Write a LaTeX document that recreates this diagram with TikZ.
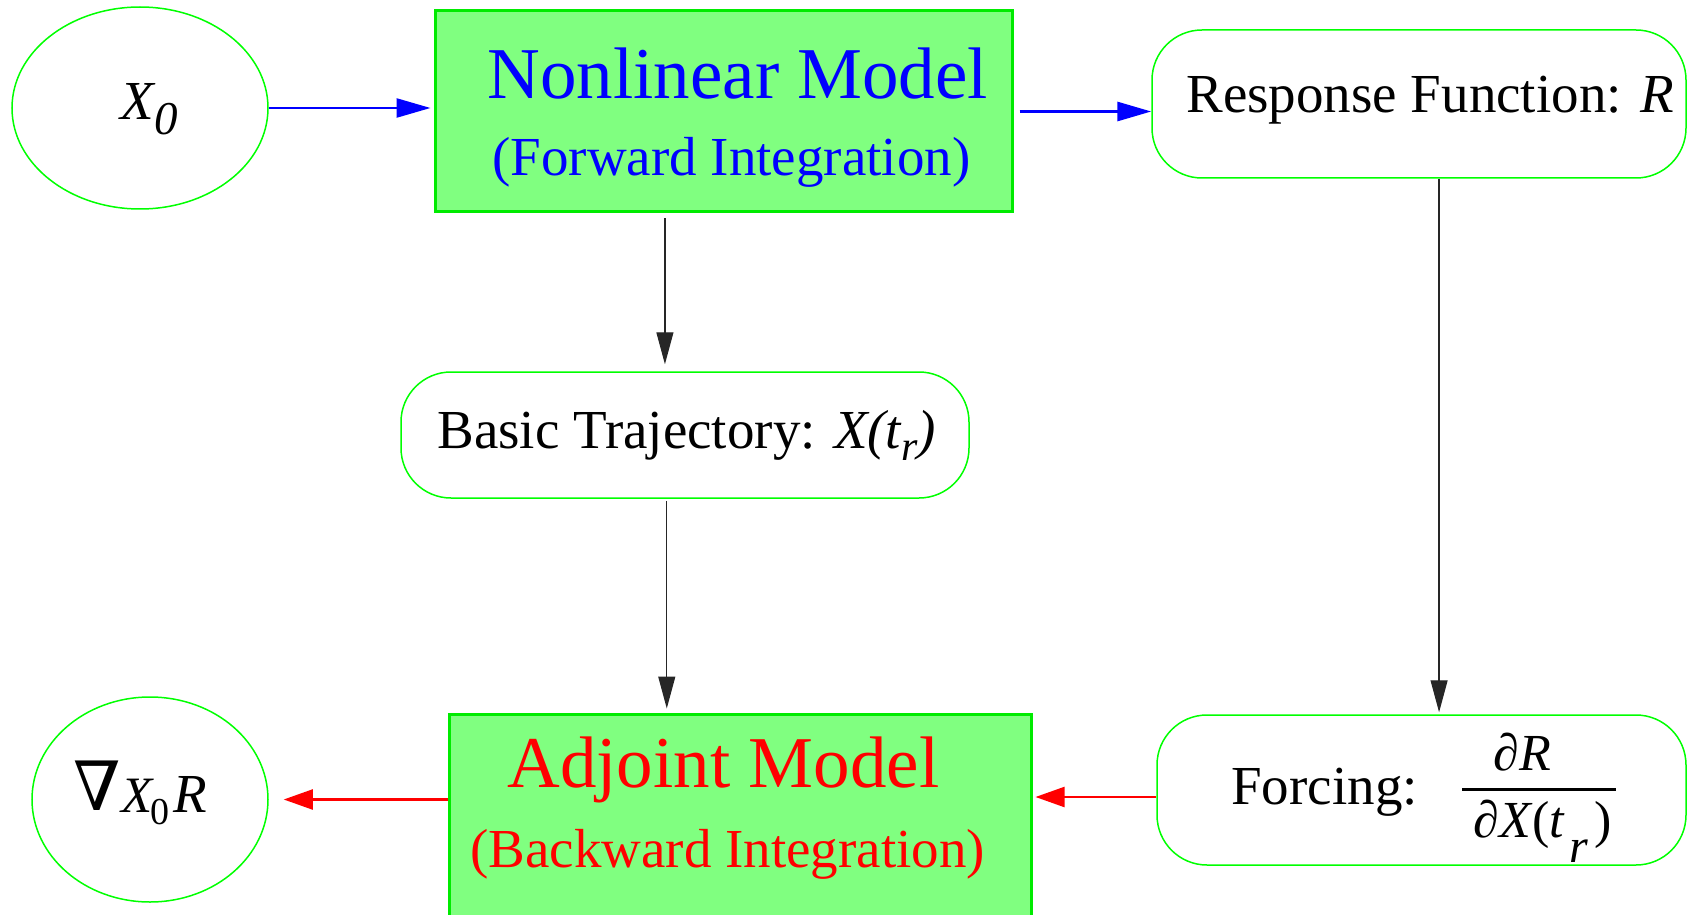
\documentclass[tikz,border=0pt]{standalone}
\usepackage{fontspec}
\setmainfont{Liberation Serif}
\newfontfamily\symfont{DejaVu Serif}
\usetikzlibrary{shapes.geometric,arrows.meta,calc}

\definecolor{modelfill}{RGB}{128,255,128}
\definecolor{modeledge}{RGB}{0,235,0}
\definecolor{outline}{RGB}{0,255,0}
\definecolor{fwdblue}{RGB}{0,0,255}
\definecolor{adjred}{RGB}{255,0,0}

\newcommand\fsz[1]{\fontsize{#1}{#1}\selectfont}

\begin{document}
\begin{tikzpicture}[x=0.5pt,y=-0.5pt,
  modelbox/.style={rectangle,draw=modeledge,line width=1.5pt,fill=modelfill,inner sep=0pt},
  infobox/.style={rectangle,draw=outline,line width=0.75pt,rounded corners=25pt,inner sep=0pt},
  oval/.style={ellipse,draw=outline,line width=0.75pt,inner sep=0pt},
  lbl/.style={anchor=base west,inner sep=0pt},
  titlefont/.style={font=\fsz{36.5pt}},
  textfont/.style={font=\fsz{27.5pt}},
  fwd/.style={draw=fwdblue,line width=1.25pt,-{Triangle[length=17pt,width=9.5pt]}},
  dep/.style={draw=black!85,line width=0.6pt,-{Triangle[length=16pt,width=8.5pt]}},
  back/.style={draw=adjred,line width=1.1pt,-{Triangle[length=14.5pt,width=10pt]}}]

\useasboundingbox (0,0) rectangle (1688,915);

% shapes
\node[oval,minimum width=128pt,minimum height=101pt] (x0) at (140,108) {};
\node[modelbox,minimum width=288.5pt,minimum height=100.5pt] (nl) at (723.5,111.5) {};
\node[infobox,minimum width=267pt,minimum height=74pt] (resp) at (1419,104) {};
\node[infobox,minimum width=284pt,minimum height=63pt] (basic) at (685,435) {};
\node[modelbox,minimum width=291pt,minimum height=113pt] (adj) at (740,827) {};
\node[infobox,minimum width=264.5pt,minimum height=75pt] (forcing) at (1421.5,790) {};
\node[oval,minimum width=118pt,minimum height=102.5pt] (grad) at (150,799.5) {};

% labels
\node[lbl] (x0text) at (120,120)
  {\makebox[17pt][l]{\fsz{27.5pt}\itshape X}\raisebox{-7pt}{\fsz{23.5pt}\itshape 0}};

\node[lbl,titlefont,text=fwdblue] (nltitle) at (487,99) {Nonlinear Model};
\node[lbl,textfont,text=fwdblue] (nlsub) at (492,176) {(Forward Integration)};

\node[lbl,textfont] (resptext) at (1186,113) {Response Function: \textit{R}};

\node[lbl,textfont] (basictext) at (437,448)
  {Basic Trajectory: \textit{X(t\raisebox{-6pt}{\fsz{21pt}r})}};

\node[lbl,titlefont,text=adjred] (adjtitle) at (507,787) {Adjoint Model};
\node[lbl,textfont,text=adjred] (adjsub) at (470,867) {(Backward Integration)};

\node[lbl,textfont] (forcetext) at (1231,804) {Forcing:};
\node[lbl] (forcefrac) at (1462,789)
  {\rlap{\rule[-0.75pt]{77pt}{1.5pt}}%
   \rlap{\hspace{15.5pt}\raisebox{9.5pt}{\fsz{26pt}\itshape ∂R}}%
   \hspace{5.5pt}\raisebox{-24pt}{\fsz{26pt}\textit{∂X}(\textit{t}\hspace{2pt}\raisebox{-12.5pt}{\fsz{24pt}\itshape r}\hspace{3pt})}};

\node[lbl] (gradtext) at (73,812)
  {\makebox[24pt][l]{\raisebox{1pt}{\fsz{34pt}\symfont ∇}}%
   \makebox[14.5pt][l]{\fsz{25.5pt}\itshape X}%
   \makebox[11.5pt][l]{\raisebox{-6pt}{\fsz{19pt}0}}%
   {\fsz{27.5pt}\itshape R}};

% forward pass
\draw[fwd,shorten >=1.5pt] (x0.east) -- (x0.east -| nl.west);
\draw[fwd,line width=1.5pt,shorten <=3pt] (nl.east) -- (nl.east -| resp.west);

% trajectory and forcing feed the adjoint
\coordinate (nlfoot) at ($(nl.south west)!0.399!(nl.south east)$);
\coordinate (basicfoot) at ($(basic.south west)!0.468!(basic.south east)$);
\coordinate (respfoot) at ($(resp.south west)!0.5375!(resp.south east)$);
\draw[dep,shorten <=2.5pt,shorten >=3.5pt] (nlfoot) -- (nlfoot |- basic.north);
\draw[dep,shorten <=1pt,shorten >=2pt] (basicfoot) -- (basicfoot |- adj.north);
\draw[dep,shorten >=1pt] (respfoot) -- (respfoot |- forcing.north);

% backward pass
\draw[back,shorten >=1.5pt] ([yshift=-3.5pt]forcing.west) -- ([yshift=-3.5pt]forcing.west -| adj.east);
\draw[back,shorten >=7.5pt] (grad.east -| adj.west) -- (grad.east);

\end{tikzpicture}
\end{document}
